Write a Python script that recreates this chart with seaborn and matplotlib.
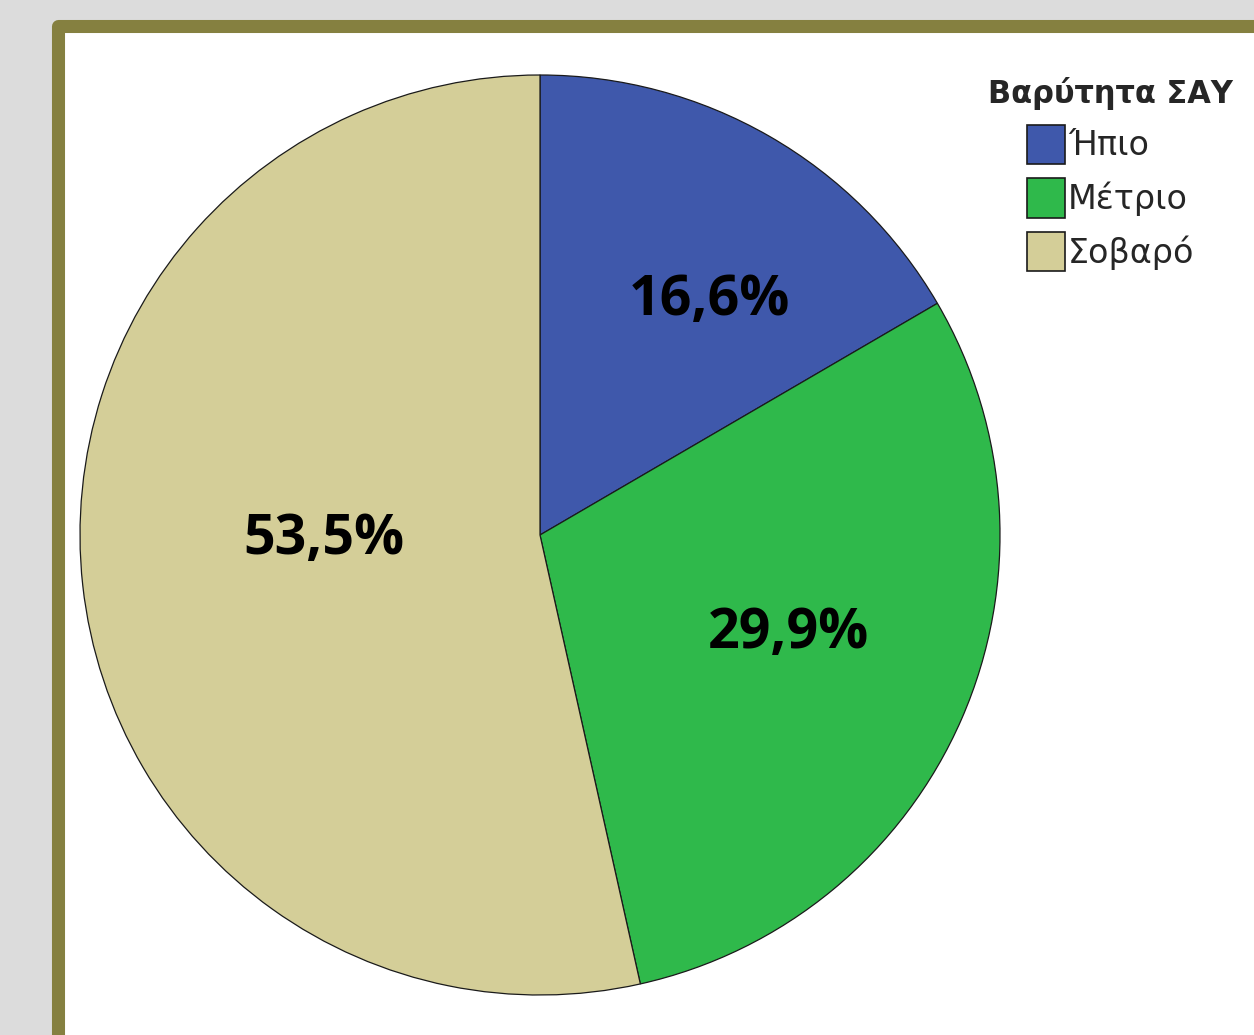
import matplotlib
matplotlib.use("Agg")
import matplotlib.pyplot as plt
from matplotlib.patches import Rectangle
import seaborn as sns
import numpy as np

# data
categories = ["Ήπιο", "Μέτριο", "Σοβαρό"]
shares = [16.6, 29.9, 53.5]
legend_title = "Βαρύτητα ΣΑΥ"

sns.set_theme(style="white")
plt.rcParams["font.family"] = ["DejaVu Sans"]

colors = sns.color_palette(["#3f58ab", "#2fb94b", "#d4ce98"])
label_radius = [0.63, 0.58, 0.47]
label_shift = [-6, 2, -5]  # degrees, nudges label off the wedge middle

fig = plt.figure(figsize=(12.54, 10.35), dpi=100)
fig.patch.set_facecolor("#dcdcdc")

# white panel with olive frame
frame = Rectangle((57.5 / 1254, -0.05), 1.2, (1035 - 26) / 1035 + 0.05,
                  transform=fig.transFigure, facecolor="white",
                  edgecolor="#858040", linewidth=9.4, joinstyle="round",
                  zorder=-5)
fig.patches.append(frame)

ax = fig.add_axes([80 / 1254, 40 / 1035, 920 / 1254, 920 / 1035])
ax.set_zorder(2)
ax.set_facecolor("none")
wedges, _ = ax.pie(shares, colors=colors, startangle=90, counterclock=False,
                   radius=1.0,
                   wedgeprops=dict(edgecolor="#1a1a1a", linewidth=0.9))
ax.set_xlim(-1, 1)
ax.set_ylim(-1, 1)
ax.set_aspect("equal")
ax.axis("off")

for w, v, r, s in zip(wedges, shares, label_radius, label_shift):
    mid = np.deg2rad((w.theta1 + w.theta2) / 2 + s)
    ax.text(r * np.cos(mid), r * np.sin(mid),
            f"{v:.1f}".replace(".", ",") + "%",
            ha="center", va="center", fontsize=40, fontweight="bold",
            family=["Open Sans", "DejaVu Sans"], color="black")

leg = fig.legend(wedges, categories, title=legend_title,
                 loc="upper left", bbox_to_anchor=(988 / 1254, 1 - 77 / 1035),
                 frameon=False, fontsize=24, title_fontsize=22,
                 handlelength=1.14, handleheight=1.43, handletextpad=0.1,
                 labelspacing=0.44, borderpad=0.0, borderaxespad=0.0)
leg.get_title().set_fontweight("bold")
for h in leg.legend_handles:
    h.set_edgecolor("#1a1a1a")
    h.set_linewidth(1.2)

fig.savefig("out.png", dpi=100, facecolor=fig.get_facecolor())
